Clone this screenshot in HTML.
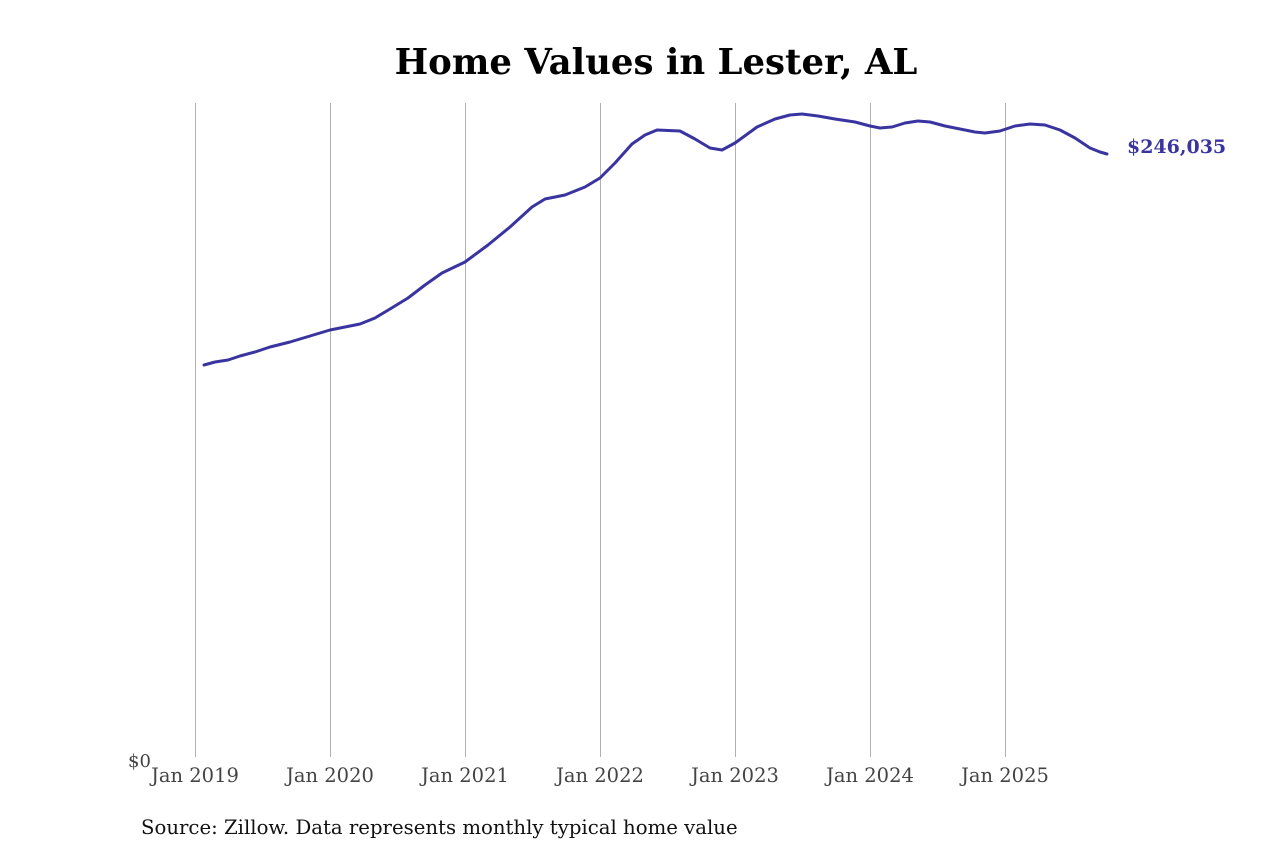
<!DOCTYPE html>
<html><head><meta charset="utf-8"><style>
html,body{margin:0;padding:0;background:#fff;}
svg{display:block;}
</style></head><body>
<svg width="1280" height="853" xmlns="http://www.w3.org/2000/svg" font-family="'DejaVu Serif','Liberation Serif',serif">
<text x="656" y="74" text-anchor="middle" font-size="35.5" font-weight="bold" fill="#000">Home Values in Lester, AL</text>
<g stroke="#b0b0b0" stroke-width="1">
<line x1="195.5" y1="103" x2="195.5" y2="757"/>
<line x1="330.5" y1="103" x2="330.5" y2="757"/>
<line x1="465.5" y1="103" x2="465.5" y2="757"/>
<line x1="600.5" y1="103" x2="600.5" y2="757"/>
<line x1="735.5" y1="103" x2="735.5" y2="757"/>
<line x1="870.5" y1="103" x2="870.5" y2="757"/>
<line x1="1005.5" y1="103" x2="1005.5" y2="757"/>
</g>
<g font-size="19.5" fill="#444" text-anchor="middle">
<text x="128" y="767" text-anchor="start" font-size="18">$0</text>
<text x="195" y="782">Jan 2019</text>
<text x="330" y="782">Jan 2020</text>
<text x="465" y="782">Jan 2021</text>
<text x="600" y="782">Jan 2022</text>
<text x="735" y="782">Jan 2023</text>
<text x="870" y="782">Jan 2024</text>
<text x="1005" y="782">Jan 2025</text>
</g>
<polyline fill="none" stroke="#3a34a0" stroke-width="3" stroke-linejoin="round" stroke-linecap="round" points="204,365 215,362 228,360 240,356 255,352 270,347 290,342 310,336 330,330 345,327 360,324 375,318 390,309 408,298 425,285 442,273 465,262 488,245 510,227 532,207 545,199 565,195 585,187 600,178 615,163 632,144 645,135 657,130 680,131 695,139 710,148 722,150 735,143 757,127 775,119 790,115 802,114 818,116 835,119 855,122 870,126 880,128 892,127 905,123 918,121 930,122 945,126 960,129 975,132 985,133 1000,131 1015,126 1030,124 1045,125 1060,130 1075,138 1090,148 1100,152 1107,154"/>
<text x="1127" y="153" font-size="19" font-weight="bold" fill="#3a34a0">$246,035</text>
<text x="141" y="834" font-size="19.7" fill="#111">Source: Zillow. Data represents monthly typical home value</text>
</svg>
</body></html>
